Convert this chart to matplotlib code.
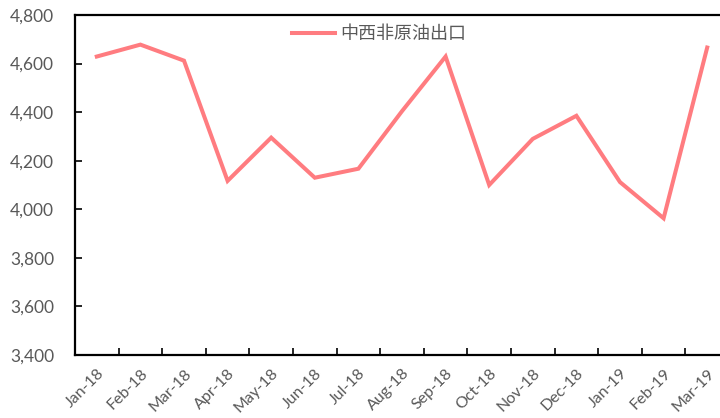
import matplotlib
matplotlib.use("Agg")
import matplotlib.pyplot as plt
import numpy as np

# Monthly West/Central African crude exports
months = ["Jan-18", "Feb-18", "Mar-18", "Apr-18", "May-18", "Jun-18", "Jul-18",
          "Aug-18", "Sep-18", "Oct-18", "Nov-18", "Dec-18", "Jan-19", "Feb-19", "Mar-19"]
exports = [4629, 4678, 4612, 4117, 4295, 4130, 4167, 4404, 4629, 4100, 4290,
           4385, 4112, 3963, 4666]
series_name = "中西非原油出口"
y_ticks = [3400, 3600, 3800, 4000, 4200, 4400, 4600, 4800]

plt.rcParams['font.family'] = ['Lato', 'Noto Sans CJK SC', 'DejaVu Sans']

fig = plt.figure(figsize=(7.2, 4.18), dpi=100)
ax = fig.add_axes([75 / 720, 1 - 355 / 418, 654 / 720, 340 / 418])

x = np.arange(len(months))
ax.plot(x, exports, color='#FF7C80', linewidth=2.9, solid_joinstyle='miter',
        label=series_name)

ax.set_xlim(-0.5, len(months) - 0.5)
ax.set_ylim(3400, 4800)

# tick marks between categories, labels at the centres
ax.set_xticks(np.arange(0.5, len(months) - 1, 1.0))
ax.set_xticklabels([])
ax.set_xticks(x, minor=True)
ax.set_xticklabels(months, minor=True, rotation=45, ha='right', va='top',
                   rotation_mode='anchor', color='#595959', fontsize=11.5)
ax.tick_params(axis='x', which='major', direction='in', length=5, width=1.2)
ax.tick_params(axis='x', which='minor', length=0, pad=8)

ax.set_yticks(y_ticks)
ax.set_yticklabels([f"{v:,}" for v in y_ticks], color='#595959', fontsize=12.5)
ax.tick_params(axis='y', direction='in', length=5, width=1.2, pad=15)

for side in ['left', 'bottom', 'top', 'right']:
    ax.spines[side].set_linewidth(1.6)
    ax.spines[side].set_color('black')

leg = ax.legend(loc='upper center', bbox_to_anchor=(0.465, 1.0), frameon=False,
                fontsize=13, handlelength=2.4, handletextpad=0.3, borderaxespad=0.2)
for t in leg.get_texts():
    t.set_color('#595959')

fig.savefig('out.png', dpi=100)
